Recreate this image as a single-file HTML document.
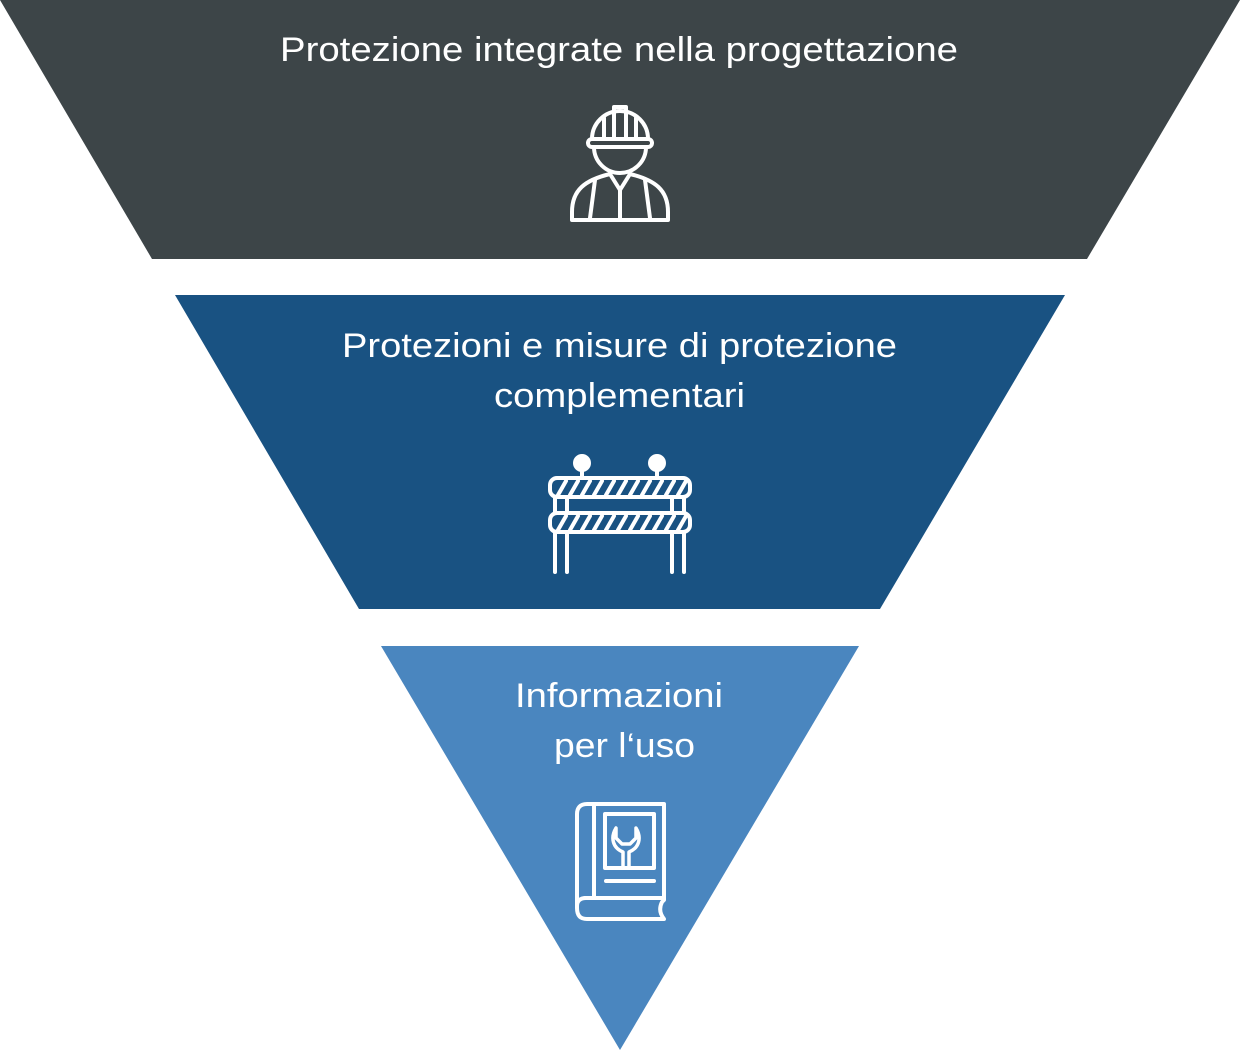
<!DOCTYPE html>
<html><head><style>body{margin:0;background:#fff}svg{display:block}</style></head><body>
<svg width="1240" height="1051" viewBox="0 0 1240 1051" xmlns="http://www.w3.org/2000/svg">
<polygon points="0,0 1240,0 1087,259 152,259" fill="#3d4548"/>
<polygon points="175,295 1065,295 880,609 359,609" fill="#195282"/>
<polygon points="381,646 859,646 620,1050" fill="#4a86bf"/>
<g font-family="Liberation Sans, sans-serif" font-size="34" fill="#fff" lengthAdjust="spacingAndGlyphs">
<text x="280" y="61" textLength="678" lengthAdjust="spacingAndGlyphs">Protezione integrate nella progettazione</text>
<text x="342" y="357" textLength="555" lengthAdjust="spacingAndGlyphs">Protezioni e misure di protezione</text>
<text x="494" y="407" textLength="251" lengthAdjust="spacingAndGlyphs">complementari</text>
<text x="515" y="707" textLength="208" lengthAdjust="spacingAndGlyphs">Informazioni</text>
<text x="554" y="757" textLength="141" lengthAdjust="spacingAndGlyphs">per l‘uso</text>
</g>
<g fill="none" stroke="#fff" stroke-width="4" stroke-linejoin="round" stroke-linecap="round">
<path d="M592,139 A28,28 0 0 1 648,139"/>
<rect x="588" y="139" width="64" height="8" rx="4"/>
<path d="M614,139 V107 H626 V139"/>
<path d="M604,139 V118 M636,139 V118"/>
<path d="M594,147 A26,26 0 0 0 646,147"/>
<path d="M572,220 H668 V212 C668,190 655,180 630,174 L620,190 L610,174 C585,180 572,190 572,212 Z"/>
<path d="M620,190 V220 M595,180 L590,218 M645,180 L650,218"/>
<circle cx="582" cy="463" r="7" fill="#fff"/><circle cx="657" cy="463" r="7" fill="#fff"/>
<path d="M582,470 V478 M657,470 V478"/>
<rect x="550" y="478" width="140" height="19" rx="7"/>
<rect x="550" y="513" width="140" height="19" rx="7"/>
<path d="M555,497 V513 M567,497 V513 M672,497 V513 M684,497 V513"/>
<path d="M555,532 V572 M567,532 V572 M672,532 V572 M684,532 V572"/>
<path d="M558,495 L566,481 M570,495 L578,481 M582,495 L590,481 M594,495 L602,481 M606,495 L614,481 M618,495 L626,481 M630,495 L638,481 M642,495 L650,481 M654,495 L662,481 M666,495 L674,481 M678,495 L686,481"/>
<path d="M558,530 L566,516 M570,530 L578,516 M582,530 L590,516 M594,530 L602,516 M606,530 L614,516 M618,530 L626,516 M630,530 L638,516 M642,530 L650,516 M654,530 L662,516 M666,530 L674,516 M678,530 L686,516"/>
<path d="M664,900 V804 H587 C580,804 577,808 577,814 V908 C577,915 580,919 587,919 H664 C660,914 659,908 662,902 Z"/>
<path d="M594,804 V898 M585,898 H662"/>
<path d="M577,906 C577,901 580,898 586,898"/>
<rect x="605" y="814" width="49" height="54"/>
<path d="M606,881 H654"/>
<path d="M623,866 V852 C613,848 610,838 616,828 V838 L622,844 L630,844 L636,838 V828 C642,838 639,848 629,852 V866" stroke-width="3.5"/>
</g>
</svg>
</body></html>
